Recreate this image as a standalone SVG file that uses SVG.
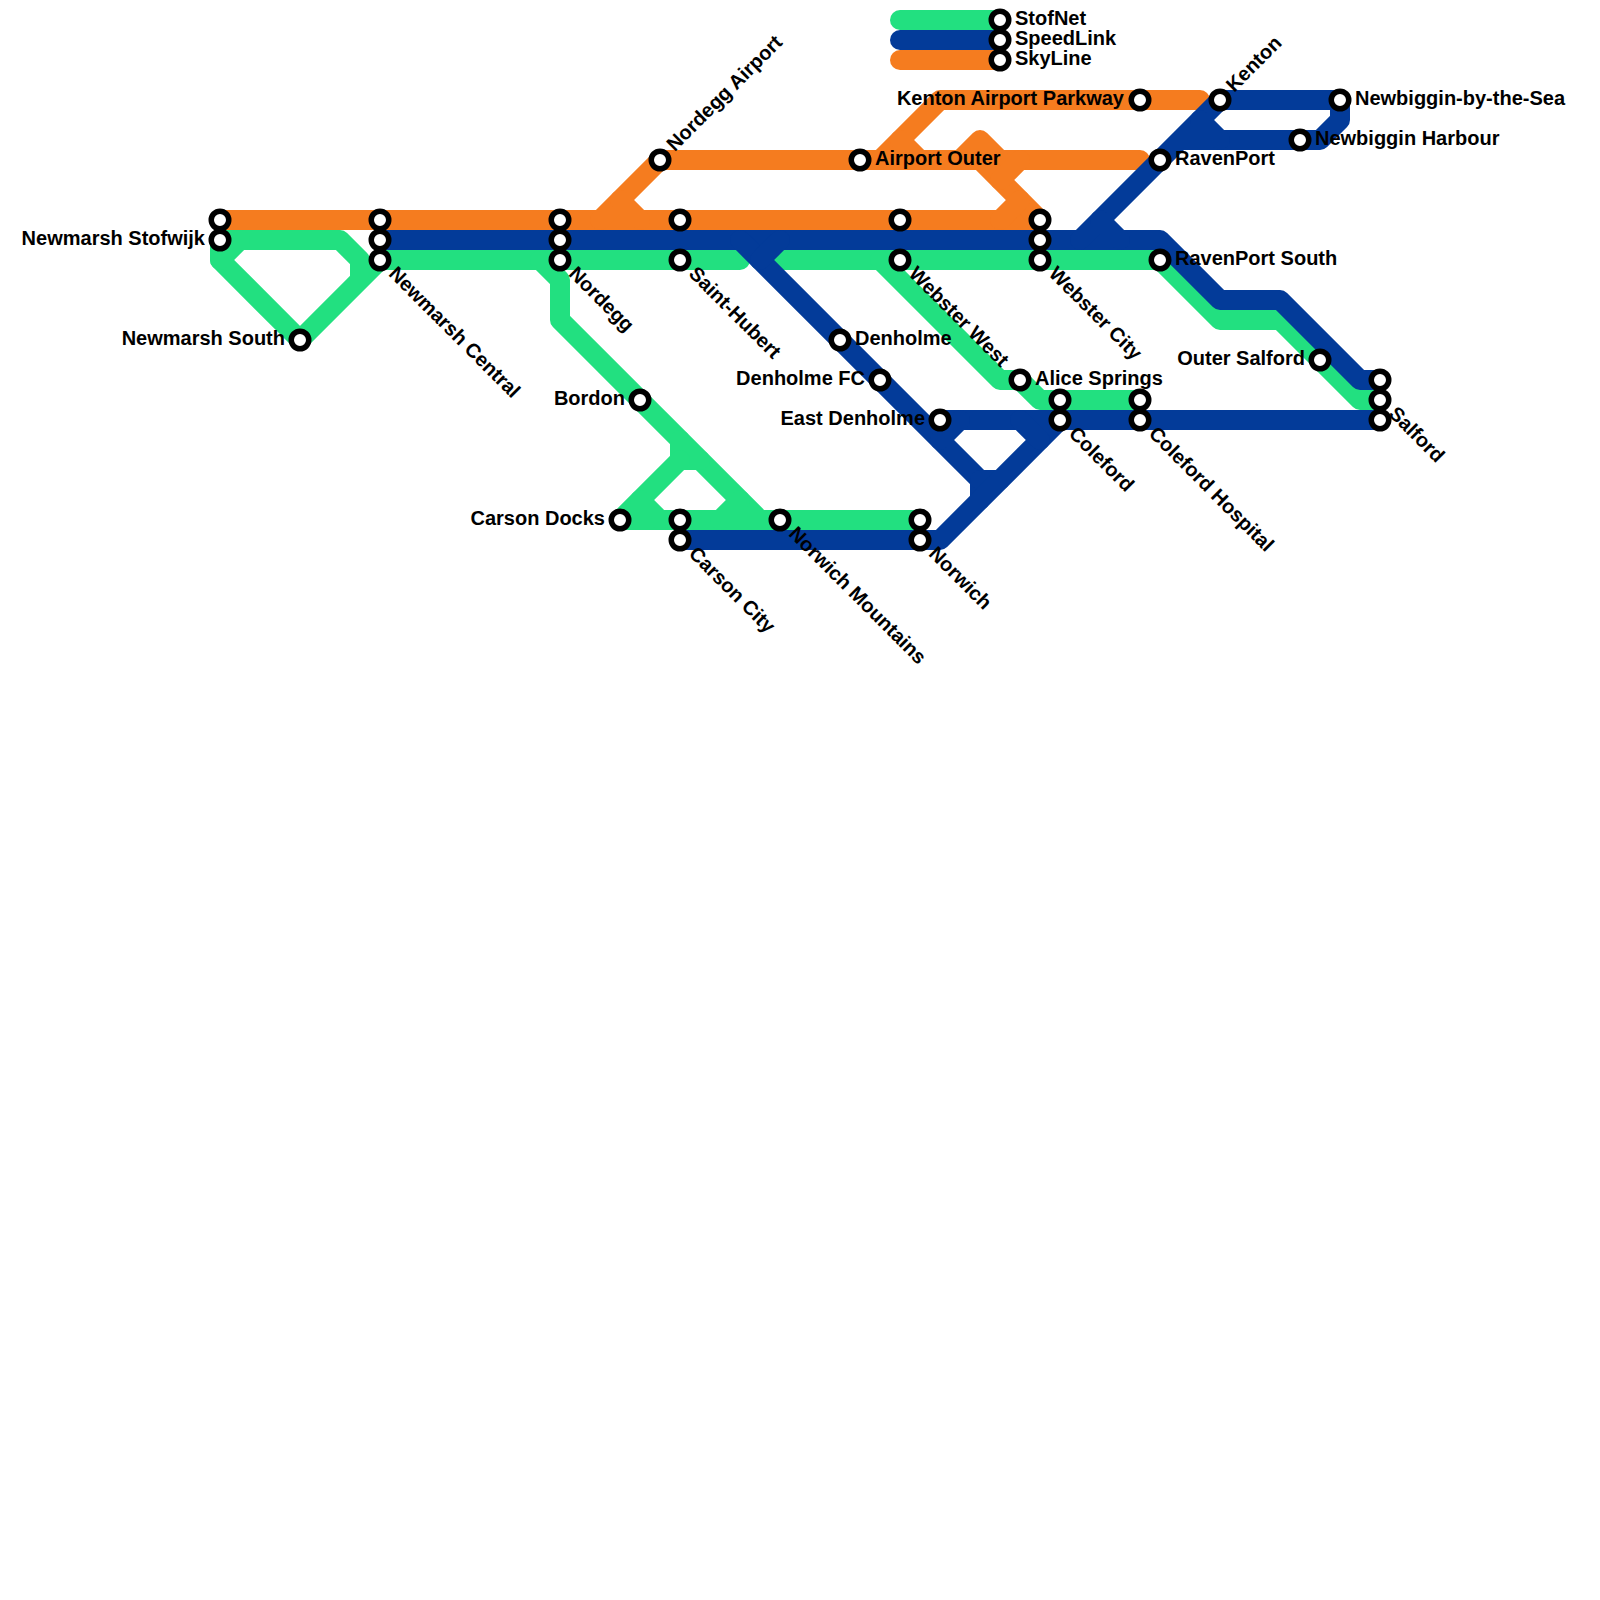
<svg xmlns="http://www.w3.org/2000/svg" width="1600" height="1600" viewBox="0 0 1600 1600">
<style>
.l{fill:none;stroke-width:20;stroke-linecap:round;stroke-linejoin:round}
.g{stroke:#22e080}.b{stroke:#033b99}.o{stroke:#f57c1f}
circle{fill:#fff;stroke:#000;stroke-width:5.5}
text{font-family:"Liberation Sans",Arial,sans-serif;font-weight:700;font-size:20px;fill:#000}
.e{text-anchor:end}
</style>
<rect width="1600" height="1600" fill="#fff"/>
<g id="connectors">
<g id="line-stofnet">
<path class="l g" d="M900 20H1000"/>
<path class="l g" d="M380 260L300 340L220 260V240H340L360 260V280"/>
<path class="l g" d="M220 260L240 240"/>
<path class="l g" d="M380 260H740"/>
<path class="l g" d="M760 260H1160L1220 320H1280L1360 400H1380"/>
<path class="l g" d="M540 260L560 280V320L760 520"/>
<path class="l g" d="M680 440V460H700"/>
<path class="l g" d="M680 460L620 520H920"/>
<path class="l g" d="M640 500L660 520"/>
<path class="l g" d="M720 520L740 500"/>
<path class="l g" d="M880 260L1000 380H1020L1040 400H1140"/>
</g>
<g id="line-skyline">
<path class="l o" d="M900 60H1000"/>
<path class="l o" d="M220 220H1040"/>
<path class="l o" d="M600 220L660 160H1140"/>
<path class="l o" d="M620 200L640 220"/>
<path class="l o" d="M880 160L940 100H1200"/>
<path class="l o" d="M900 140L920 160"/>
<path class="l o" d="M960 160L980 140L1000 160"/>
<path class="l o" d="M980 160L1040 220"/>
<path class="l o" d="M1000 180L1020 160"/>
<path class="l o" d="M1000 220L1020 200"/>
</g>
<g id="line-speedlink">
<path class="l b" d="M900 40H1000"/>
<path class="l b" d="M380 240H1160L1220 300H1280L1360 380H1380"/>
<path class="l b" d="M1080 240L1220 100H1340V120L1320 140H1180"/>
<path class="l b" d="M1200 120L1220 140"/>
<path class="l b" d="M1100 220L1120 240"/>
<path class="l b" d="M740 240L980 480V500"/>
<path class="l b" d="M760 260L780 240"/>
<path class="l b" d="M980 480H1000"/>
<path class="l b" d="M680 540H940L1060 420"/>
<path class="l b" d="M940 420H1380"/>
<path class="l b" d="M960 420L940 440"/>
<path class="l b" d="M1020 420L1040 440"/>
</g>
</g>
<g id="legend">
<circle cx="1000" cy="20" r="8.75"/><circle cx="1000" cy="40" r="8.75"/><circle cx="1000" cy="60" r="8.75"/>
<text x="1015" y="25">StofNet</text><text x="1015" y="45">SpeedLink</text><text x="1015" y="65">SkyLine</text>
</g>
<g id="newmarsh-stofwijk"><circle cx="220" cy="220" r="8.75"/><circle cx="220" cy="240" r="8.75"/><text class="e" x="205" y="245">Newmarsh Stofwijk</text></g>
<g id="newmarsh-south"><circle cx="300" cy="340" r="8.75"/><text class="e" x="285" y="345">Newmarsh South</text></g>
<g id="newmarsh-central"><circle cx="380" cy="220" r="8.75"/><circle cx="380" cy="240" r="8.75"/><circle cx="380" cy="260" r="8.75"/><text transform="translate(380 260) rotate(45)" x="16" y="5">Newmarsh Central</text></g>
<g id="nordegg"><circle cx="560" cy="220" r="8.75"/><circle cx="560" cy="240" r="8.75"/><circle cx="560" cy="260" r="8.75"/><text transform="translate(560 260) rotate(45)" x="16" y="5">Nordegg</text></g>
<g id="nordegg-airport"><circle cx="660" cy="160" r="8.75"/><text transform="translate(660 160) rotate(-45)" x="16" y="5">Nordegg Airport</text></g>
<g id="saint-hubert"><circle cx="680" cy="220" r="8.75"/><circle cx="680" cy="260" r="8.75"/><text transform="translate(680 260) rotate(45)" x="16" y="5">Saint-Hubert</text></g>
<g id="airport-outer"><circle cx="860" cy="160" r="8.75"/><text x="875" y="165">Airport Outer</text></g>
<g id="webster-west"><circle cx="900" cy="220" r="8.75"/><circle cx="900" cy="260" r="8.75"/><text transform="translate(900 260) rotate(45)" x="16" y="5">Webster West</text></g>
<g id="webster-city"><circle cx="1040" cy="220" r="8.75"/><circle cx="1040" cy="240" r="8.75"/><circle cx="1040" cy="260" r="8.75"/><text transform="translate(1040 260) rotate(45)" x="16" y="5">Webster City</text></g>
<g id="kenton-airport-parkway"><circle cx="1140" cy="100" r="8.75"/><text class="e" x="1124" y="105">Kenton Airport Parkway</text></g>
<g id="kenton"><circle cx="1220" cy="100" r="8.75"/><text transform="translate(1220 100) rotate(-45)" x="15" y="5">Kenton</text></g>
<g id="newbiggin-by-the-sea"><circle cx="1340" cy="100" r="8.75"/><text x="1355" y="105">Newbiggin-by-the-Sea</text></g>
<g id="newbiggin-harbour"><circle cx="1300" cy="140" r="8.75"/><text x="1315" y="145">Newbiggin Harbour</text></g>
<g id="ravenport"><circle cx="1160" cy="160" r="8.75"/><text x="1175" y="165">RavenPort</text></g>
<g id="ravenport-south"><circle cx="1160" cy="260" r="8.75"/><text x="1175" y="265">RavenPort South</text></g>
<g id="outer-salford"><circle cx="1320" cy="360" r="8.75"/><text class="e" x="1305" y="365">Outer Salford</text></g>
<g id="salford"><circle cx="1380" cy="380" r="8.75"/><circle cx="1380" cy="400" r="8.75"/><circle cx="1380" cy="420" r="8.75"/><text transform="translate(1380 400) rotate(45)" x="16" y="5">Salford</text></g>
<g id="denholme"><circle cx="840" cy="340" r="8.75"/><text x="855" y="345">Denholme</text></g>
<g id="denholme-fc"><circle cx="880" cy="380" r="8.75"/><text class="e" x="865" y="385">Denholme FC</text></g>
<g id="east-denholme"><circle cx="940" cy="420" r="8.75"/><text class="e" x="925" y="425">East Denholme</text></g>
<g id="alice-springs"><circle cx="1020" cy="380" r="8.75"/><text x="1035" y="385">Alice Springs</text></g>
<g id="coleford"><circle cx="1060" cy="400" r="8.75"/><circle cx="1060" cy="420" r="8.75"/><text transform="translate(1060 420) rotate(45)" x="16" y="5">Coleford</text></g>
<g id="coleford-hospital"><circle cx="1140" cy="400" r="8.75"/><circle cx="1140" cy="420" r="8.75"/><text transform="translate(1140 420) rotate(45)" x="16" y="5">Coleford Hospital</text></g>
<g id="bordon"><circle cx="640" cy="400" r="8.75"/><text class="e" x="625" y="405">Bordon</text></g>
<g id="carson-docks"><circle cx="620" cy="520" r="8.75"/><text class="e" x="605" y="525">Carson Docks</text></g>
<g id="carson-city"><circle cx="680" cy="520" r="8.75"/><circle cx="680" cy="540" r="8.75"/><text transform="translate(680 540) rotate(45)" x="16" y="5">Carson City</text></g>
<g id="norwich-mountains"><circle cx="780" cy="520" r="8.75"/><text transform="translate(780 520) rotate(45)" x="16" y="5">Norwich Mountains</text></g>
<g id="norwich"><circle cx="920" cy="520" r="8.75"/><circle cx="920" cy="540" r="8.75"/><text transform="translate(920 540) rotate(45)" x="16" y="5">Norwich</text></g>
</svg>
